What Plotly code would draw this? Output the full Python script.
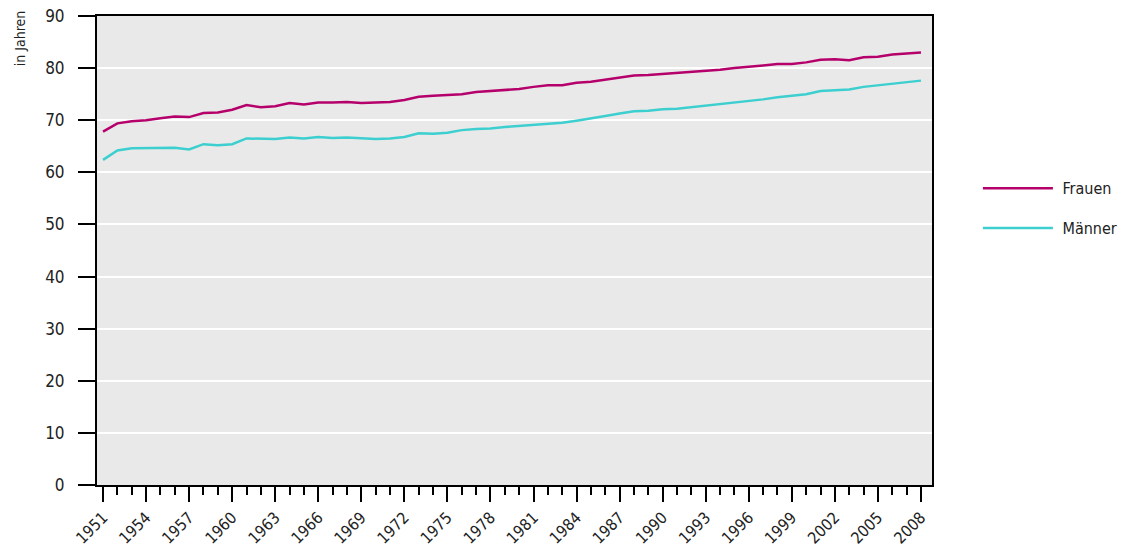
import plotly.graph_objects as go

years = list(range(1951, 2009))

frauen = [67.8, 69.4, 69.8, 70.0, 70.4, 70.7, 70.6, 71.4, 71.5, 72.0,
          72.9, 72.5, 72.7, 73.3, 73.0, 73.4, 73.4, 73.5, 73.3, 73.4,
          73.5, 73.9, 74.5, 74.7, 74.8, 75.0, 75.4, 75.6, 75.9, 76.0,
          76.4, 76.7, 76.7, 77.2, 77.4, 77.8, 78.2, 78.6, 78.7, 78.9,
          79.0, 79.2, 79.5, 79.7, 80.0, 80.2, 80.5, 80.8, 80.8, 81.1,
          81.6, 81.7, 81.5, 82.1, 82.2, 82.6, 82.8, 83.0]

maenner = [62.4, 64.2, 64.6, 64.6, 64.7, 64.7, 64.4, 65.4, 65.2, 65.4,
           66.5, 66.4, 66.4, 66.7, 66.5, 66.8, 66.6, 66.7, 66.6, 66.4,
           66.5, 66.8, 67.5, 67.4, 67.6, 68.1, 68.3, 68.4, 68.7, 68.9,
           69.2, 69.4, 69.5, 69.9, 70.3, 70.8, 71.3, 71.7, 71.8, 72.1,
           72.2, 72.5, 72.8, 73.1, 73.3, 73.6, 74.0, 74.4, 74.7, 75.0,
           75.6, 75.8, 75.9, 76.4, 76.7, 77.1, 77.3, 77.6]

FONT = "DejaVu Sans Condensed, DejaVu Sans, sans-serif"
TXT = "#222222"

fig = go.Figure()
fig.add_trace(go.Scatter(x=years, y=frauen, mode="lines",
                         name="\u00a0Frauen", legendgroup="f",
                         line=dict(color="#b5006b", width=2.5)))
fig.add_trace(go.Scatter(x=years, y=maenner, mode="lines",
                         name="\u00a0Männer", legendgroup="m",
                         line=dict(color="#3dcfcf", width=2.5)))

fig.update_layout(
    width=1121, height=539,
    margin=dict(l=89, r=197, t=8, b=62, autoexpand=False),
    paper_bgcolor="white",
    plot_bgcolor="#e9e9e9",
    font=dict(family=FONT, size=16, color=TXT),
    showlegend=True,
    legend=dict(x=1.055, y=0.59, xanchor="left", yanchor="middle",
                font=dict(family=FONT, size=16, color=TXT),
                itemwidth=70, traceorder="grouped", tracegroupgap=16,
                bgcolor="rgba(0,0,0,0)"),
    annotations=[dict(text="in Jahren", xref="paper", yref="paper",
                      x=-0.092, y=1.017, xanchor="center", yanchor="top",
                      textangle=-90, showarrow=False,
                      font=dict(family=FONT, size=14, color=TXT))],
)

fig.update_xaxes(
    range=[1950.58, 2008.77], automargin=False,
    tickmode="linear", tick0=1951, dtick=3,
    ticks="outside", ticklen=15, tickwidth=1.5, tickcolor="black",
    tickangle=-45, ticklabeloverflow="allow",
    tickfont=dict(family=FONT, size=16, color=TXT),
    minor=dict(dtick=1, tick0=1951, ticks="outside", ticklen=8,
               tickwidth=1.5, tickcolor="black", showgrid=False),
    showgrid=False, zeroline=False,
    showline=True, linecolor="black", linewidth=2, mirror=True,
)

fig.update_yaxes(
    range=[0, 90], automargin=False,
    tickmode="linear", tick0=0, dtick=10,
    ticks="outside", ticklen=17, tickwidth=1.5, tickcolor="black",
    ticklabelstandoff=10, ticklabeloverflow="allow",
    tickfont=dict(family=FONT, size=17, color=TXT),
    showgrid=True, gridcolor="white", gridwidth=2,
    zeroline=False,
    showline=True, linecolor="black", linewidth=2, mirror=True,
)

fig.write_html("out.html")
